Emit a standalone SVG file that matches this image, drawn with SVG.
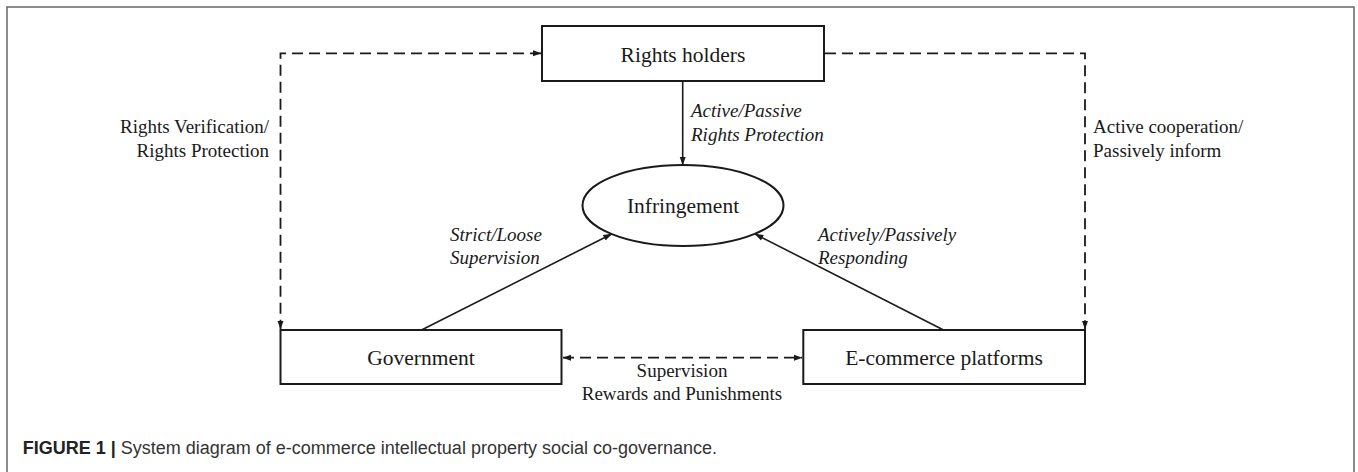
<svg xmlns="http://www.w3.org/2000/svg" width="1358" height="472" viewBox="0 0 1358 472">
  <style>
    .node { fill: #ffffff; stroke: #1a1a1a; stroke-width: 2; }
    .ntext { font-family: "Liberation Serif", "Times New Roman", serif; font-size: 21.5px; fill: #1a1a1a; text-anchor: middle; }
    .lbl { font-family: "Liberation Serif", "Times New Roman", serif; font-size: 19px; fill: #1a1a1a; }
    .it { font-style: italic; }
    .solid { fill: none; stroke: #1a1a1a; stroke-width: 1.6; }
    .dash { fill: none; stroke: #1a1a1a; stroke-width: 1.8; stroke-dasharray: 11 6; }
    .cap { font-family: "Liberation Sans", Arial, sans-serif; font-size: 18px; fill: #333333; }
  </style>
  <defs>
    <marker id="arr" viewBox="0 0 10 8" refX="9.5" refY="4" markerWidth="9" markerHeight="7" markerUnits="userSpaceOnUse" orient="auto-start-reverse">
      <path d="M0,0.5 L10,4 L0,7.5 z" fill="#1a1a1a"/>
    </marker>
  </defs>

  <rect x="0" y="0" width="1358" height="472" fill="#ffffff"/>
  <rect id="frame" x="7" y="7" width="1347" height="480" fill="none" stroke="#666666" stroke-width="1.5"/>

  <g id="connectors">
    <path class="dash" d="M541 53.3 L280.5 53.3 L280.5 329" marker-start="url(#arr)" marker-end="url(#arr)"/>
    <path class="dash" d="M825 53.3 L1085 53.3 L1085 329" marker-end="url(#arr)"/>
    <path class="dash" d="M563 357.7 L802 357.7" marker-start="url(#arr)" marker-end="url(#arr)"/>
    <path class="solid" d="M682.7 81.5 L682.7 165" marker-end="url(#arr)"/>
    <path class="solid" d="M421.5 330 L611.7 234" marker-end="url(#arr)"/>
    <path class="solid" d="M943.5 330 L755 234" marker-end="url(#arr)"/>
  </g>

  <g id="rights-holders">
    <rect class="node" x="542" y="26" width="282" height="55"/>
    <text class="ntext" x="683" y="61.5">Rights holders</text>
  </g>

  <g id="infringement">
    <ellipse class="node" cx="683" cy="205.5" rx="100.5" ry="40.5"/>
    <text class="ntext" x="683" y="213">Infringement</text>
  </g>

  <g id="government">
    <rect class="node" x="280.5" y="330" width="281" height="54"/>
    <text class="ntext" x="421" y="364.5">Government</text>
  </g>

  <g id="ecommerce">
    <rect class="node" x="803.3" y="330" width="281.7" height="54"/>
    <text class="ntext" x="944" y="364.5">E-commerce platforms</text>
  </g>

  <g id="labels">
    <text class="lbl it" x="691" y="117">Active/Passive</text>
    <text class="lbl it" x="691" y="140.7">Rights Protection</text>
    <text class="lbl it" x="450" y="241">Strict/Loose</text>
    <text class="lbl it" x="450" y="264">Supervision</text>
    <text class="lbl it" x="818" y="241">Actively/Passively</text>
    <text class="lbl it" x="818" y="264">Responding</text>
    <text class="lbl" x="269" y="133" text-anchor="end">Rights Verification/</text>
    <text class="lbl" x="269" y="156.5" text-anchor="end">Rights Protection</text>
    <text class="lbl" x="1093" y="133">Active cooperation/</text>
    <text class="lbl" x="1093" y="156.5">Passively inform</text>
    <text class="lbl" x="682" y="376.7" text-anchor="middle">Supervision</text>
    <text class="lbl" x="682" y="400" text-anchor="middle">Rewards and Punishments</text>
  </g>

  <text id="caption" class="cap" x="22.7" y="454"><tspan font-weight="bold" fill="#222222">FIGURE 1 | </tspan>System diagram of e-commerce intellectual property social co-governance.</text>
</svg>
